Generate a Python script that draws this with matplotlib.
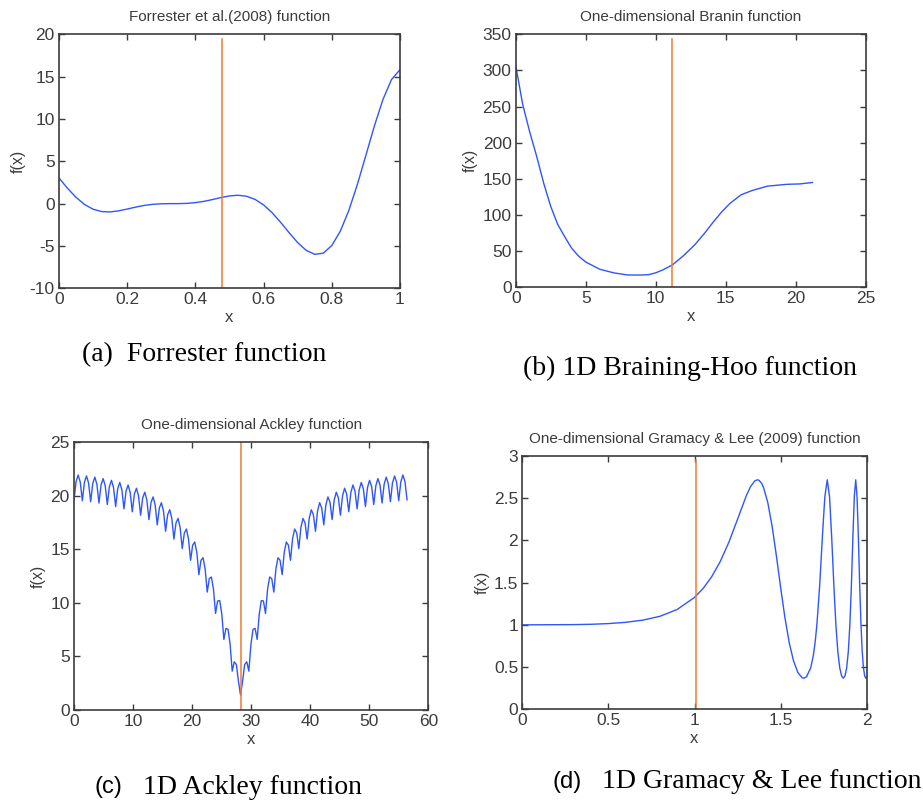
import numpy as np
import matplotlib.pyplot as plt

W, H = 923, 802

# (a) Forrester et al. (2008)
forr_x = np.arange(0, 1.0001, 0.025)
forr_y = [3.03, 1.81, 0.74, -0.10, -0.66, -0.94, -0.98, -0.85, -0.64, -0.41,
          -0.21, -0.08, -0.02, 0.00, 0.00, 0.03, 0.12, 0.27, 0.48, 0.72,
          0.91, 0.99, 0.87, 0.50, -0.15, -1.07, -2.21, -3.44, -4.61, -5.52,
          -5.99, -5.85, -4.95, -3.25, -0.80, 2.27, 5.71, 9.19, 12.30, 14.65,
          15.83]

# (b) one-dimensional Branin
bran_x = [0, 0.5, 1, 1.5, 2, 2.5, 3, 3.5, 4, 4.5, 5, 6, 7, 8, 9, 9.5, 10,
          10.5, 11.2, 12, 12.8, 13.5, 14.1, 14.7, 15.3, 16.1, 16.9, 18, 19.4,
          20.3, 21.2]
bran_y = [307, 253, 215, 181, 144, 112, 87, 70, 54, 43, 35, 25, 20, 17, 17,
          17.5, 20, 24, 31, 44, 59, 75, 90, 104, 116, 128, 134, 140, 142.5,
          143, 145]

# (c) one-dimensional Ackley, sampled on a regular grid
ack_y = [19.63, 21.33, 21.95, 21.29, 19.55, 21.25, 21.86, 21.20, 19.45,
         21.14, 21.75, 21.08, 19.33, 21.02, 21.61, 20.94, 19.19, 20.86, 21.45,
         20.77, 19.00, 20.67, 21.25, 20.56, 18.78, 20.44, 21.01, 20.31, 18.51,
         20.16, 20.71, 19.99, 18.19, 19.81, 20.34, 19.61, 17.78, 19.39, 19.90,
         19.14, 17.29, 18.87, 19.36, 18.57, 16.69, 18.24, 18.70, 17.88, 15.96,
         17.47, 17.89, 17.03, 15.07, 16.53, 16.90, 15.99, 13.98, 15.39, 15.69,
         14.72, 12.64, 13.98, 14.22, 13.17, 11.01, 12.27, 12.42, 11.28, 9.02,
         10.18, 10.22, 8.97, 6.59, 7.62, 7.53, 6.14, 3.63, 4.50, 4.25, 2.69,
         1.40,
         2.69, 4.25, 4.50, 3.63, 6.14, 7.53, 7.62, 6.59, 8.97, 10.22, 10.18,
         9.02, 11.28, 12.42, 12.27, 11.01, 13.17, 14.22, 13.98, 12.64, 14.72,
         15.69, 15.39, 13.98, 15.99, 16.90, 16.53, 15.07, 17.03, 17.89, 17.47,
         15.96, 17.88, 18.70, 18.24, 16.69, 18.57, 19.36, 18.87, 17.29, 19.14,
         19.90, 19.39, 17.78, 19.61, 20.34, 19.81, 18.19, 19.99, 20.71, 20.16,
         18.51, 20.31, 21.01, 20.44, 18.78, 20.56, 21.25, 20.67, 19.00, 20.77,
         21.45, 20.86, 19.19, 20.94, 21.61, 21.02, 19.33, 21.08, 21.75, 21.14,
         19.45, 21.20, 21.86, 21.25, 19.55, 21.29, 21.95, 21.33, 19.63]
ack_x = np.linspace(0, 56.4, len(ack_y))

# (d) one-dimensional Gramacy & Lee (2009)
gl_x = [0, 0.1, 0.2, 0.3, 0.4, 0.5, 0.6, 0.7, 0.8, 0.9, 1.0, 1.05, 1.1, 1.15,
        1.2, 1.25, 1.3, 1.325, 1.35, 1.365, 1.375, 1.39, 1.4, 1.425, 1.45,
        1.475, 1.5, 1.525, 1.55, 1.575, 1.6, 1.625, 1.635, 1.65, 1.675, 1.69,
        1.7, 1.7107, 1.7269, 1.7422, 1.7569, 1.7709, 1.7842, 1.7969, 1.8093,
        1.8211, 1.8324, 1.8433, 1.854, 1.8642, 1.8742, 1.8838, 1.8931, 1.9022,
        1.9111, 1.9196, 1.928, 1.9362, 1.944, 1.9518, 1.9593, 1.9669, 1.974,
        1.9811, 1.988, 1.9949, 2.0]
gl_y = [1.000, 1.001, 1.002, 1.003, 1.007, 1.015, 1.030, 1.056, 1.102, 1.183,
        1.325, 1.431, 1.571, 1.752, 1.981, 2.251, 2.525, 2.636, 2.705, 2.718,
        2.712, 2.675, 2.632, 2.454, 2.177, 1.826, 1.445, 1.087, 0.790, 0.573,
        0.437, 0.374, 0.368, 0.383, 0.492, 0.637, 0.784, 1.0, 1.466, 2.028,
        2.519, 2.718, 2.519, 2.028, 1.466, 1.0, 0.682, 0.493, 0.397, 0.368,
        0.397, 0.493, 0.682, 1.0, 1.466, 2.028, 2.519, 2.718, 2.519, 2.028,
        1.466, 1.0, 0.682, 0.493, 0.397, 0.368, 0.385]

titles = ["Forrester et al.(2008) function",
          "One-dimensional Branin function",
          "One-dimensional Ackley function",
          "One-dimensional Gramacy & Lee (2009) function"]

# vertical marker (x position, top of the line)
mark_x = [0.478, 11.19, 28.2, 1.01]
mark_top = [19.4, 343.5, 25, 2.95]

xlims = [(0, 1), (0, 25), (0, 60), (0, 2)]
ylims = [(-10, 20), (0, 350), (0, 25), (0, 3)]
xticks = [[0, 0.2, 0.4, 0.6, 0.8, 1], [0, 5, 10, 15, 20, 25],
          [0, 10, 20, 30, 40, 50, 60], [0, 0.5, 1, 1.5, 2]]
xticklabels = [["0", "0.2", "0.4", "0.6", "0.8", "1"],
               ["0", "5", "10", "15", "20", "25"],
               ["0", "10", "20", "30", "40", "50", "60"],
               ["0", "0.5", "1", "1.5", "2"]]
yticks = [[-10, -5, 0, 5, 10, 15, 20], [0, 50, 100, 150, 200, 250, 300, 350],
          [0, 5, 10, 15, 20, 25], [0, 0.5, 1, 1.5, 2, 2.5, 3]]
yticklabels = [["-10", "-5", "0", "5", "10", "15", "20"],
               ["0", "50", "100", "150", "200", "250", "300", "350"],
               ["0", "5", "10", "15", "20", "25"],
               ["0", "0.5", "1", "1.5", "2", "2.5", "3"]]

# axes boxes in pixels: left, top, right, bottom
boxes = [(59, 34.3, 400, 288.3), (515.7, 34.3, 865.7, 287.3),
         (74, 442.3, 428.3, 710), (522.3, 456, 866.7, 709.3)]

BLUE = "#2f55ff"
ORANGE = "#f07a30"
GREY = "#3c3c3c"
SANS = "Liberation Sans"
SERIF = "Liberation Serif"

fig = plt.figure(figsize=(W / 100, H / 100), dpi=100)

data = [(forr_x, forr_y), (bran_x, bran_y), (ack_x, ack_y), (gl_x, gl_y)]

for i, (xs, ys) in enumerate(data):
    l, t, r, b = boxes[i]
    ax = fig.add_axes([l / W, 1 - b / H, (r - l) / W, (b - t) / H])
    ax.plot(xs, ys, color=BLUE, lw=1.0)
    ax.plot([mark_x[i], mark_x[i]], [ylims[i][0], mark_top[i]],
            color=ORANGE, lw=1.1)
    ax.set_xlim(*xlims[i])
    ax.set_ylim(*ylims[i])
    ax.set_xticks(xticks[i])
    ax.set_xticklabels(xticklabels[i])
    ax.set_yticks(yticks[i])
    ax.set_yticklabels(yticklabels[i])
    ax.tick_params(direction="in", length=4, width=1, color=GREY,
                   top=True, right=True, labelsize=12.5, labelcolor=GREY,
                   pad=3)
    for lab in ax.get_xticklabels() + ax.get_yticklabels():
        lab.set_family(SANS)
    for s in ax.spines.values():
        s.set_color(GREY)
        s.set_linewidth(1.2)
    ax.set_xlabel("x", family=SANS, fontsize=12, color=GREY, labelpad=2)
    ax.set_ylabel("f(x)", family=SANS, fontsize=11.5, color=GREY,
                  labelpad=3)
    fig.text((l + r) / 2 / W, 1 - (t - 17) / H, titles[i], family=SANS,
             fontsize=11, color=GREY, ha="center", va="center")

# captions under the panels
fig.text(82 / W, 1 - 355 / H, "(a)  Forrester function", family=SERIF,
         fontsize=20, ha="left", va="center")
fig.text(523 / W, 1 - 368 / H, "(b) 1D Braining-Hoo function", family=SERIF,
         fontsize=20, ha="left", va="center")
fig.text(95 / W, 1 - 787 / H, "(c)", family=SANS, fontsize=17,
         ha="left", va="center")
fig.text(143 / W, 1 - 787 / H, "1D Ackley function", family=SERIF,
         fontsize=20, ha="left", va="center")
fig.text(552 / W, 1 - 782 / H, "(d)", family=SANS, fontsize=17,
         ha="left", va="center")
fig.text(602 / W, 1 - 782 / H, "1D Gramacy & Lee function", family=SERIF,
         fontsize=20, ha="left", va="center")

fig.savefig("out.png", dpi=100)
